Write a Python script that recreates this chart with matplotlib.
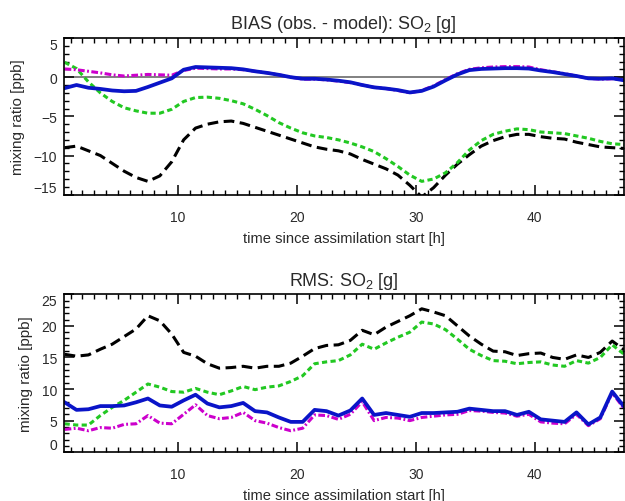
import numpy as np
import matplotlib
matplotlib.use("Agg")
import matplotlib.pyplot as plt
from matplotlib.ticker import MultipleLocator

plt.rcParams['font.family'] = ['Liberation Sans', 'DejaVu Sans']
plt.rcParams['mathtext.fontset'] = 'custom'
plt.rcParams['mathtext.rm'] = 'Liberation Sans'

# hours since assimilation start (hourly values)
hours = np.arange(0.5, 48, 1.0)

# BIAS (obs - model) [ppb]
bias_black = [-9.0, -8.8, -9.4, -10.0, -11.0, -12.0, -12.8, -13.3, -12.6, -10.8,
              -8.0, -6.5, -6.0, -5.7, -5.6, -5.9, -6.4, -6.9, -7.4, -7.9,
              -8.4, -8.9, -9.2, -9.4, -9.8, -10.5, -11.1, -11.7, -12.5, -13.8,
              -15.3, -14.1, -12.5, -11.1, -9.9, -8.8, -8.1, -7.6, -7.3, -7.3,
              -7.6, -7.8, -7.9, -8.3, -8.6, -8.9, -9.0, -9.1]
bias_green = [1.9, 1.1, -0.6, -2.0, -3.1, -3.9, -4.3, -4.6, -4.6, -4.1,
              -3.1, -2.6, -2.55, -2.7, -3.0, -3.4, -4.1, -4.9, -5.8, -6.5,
              -7.1, -7.5, -7.7, -8.0, -8.4, -8.9, -9.5, -10.4, -11.4, -12.5,
              -13.3, -13.0, -12.2, -10.9, -9.3, -8.1, -7.3, -6.9, -6.6, -6.7,
              -7.0, -7.1, -7.2, -7.5, -7.8, -8.2, -8.5, -8.6]
bias_blue = [-1.4, -1.0, -1.35, -1.5, -1.7, -1.8, -1.75, -1.25, -0.7, -0.15,
             0.95, 1.3, 1.25, 1.2, 1.15, 1.0, 0.75, 0.55, 0.3, 0.0,
             -0.2, -0.2, -0.3, -0.45, -0.65, -1.0, -1.3, -1.45, -1.65, -1.95,
             -1.75, -1.2, -0.4, 0.35, 0.9, 1.05, 1.1, 1.15, 1.15, 1.1,
             0.85, 0.65, 0.4, 0.15, -0.15, -0.2, -0.15, -0.4]
bias_magenta = [1.05, 0.95, 0.75, 0.55, 0.3, 0.15, 0.25, 0.35, 0.3, 0.25,
                0.85, 1.15, 1.1, 1.05, 1.05, 0.95, 0.75, 0.55, 0.3, 0.0,
                -0.25, -0.25, -0.35, -0.5, -0.7, -1.0, -1.3, -1.45, -1.7, -2.0,
                -1.7, -1.1, -0.3, 0.45, 1.0, 1.2, 1.3, 1.35, 1.35, 1.3,
                0.95, 0.7, 0.45, 0.15, -0.15, -0.25, -0.2, -0.35]

# RMS [ppb]
rms_black = [15.5, 15.2, 15.4, 16.3, 17.1, 18.3, 19.5, 21.6, 20.8, 18.7,
             15.8, 15.2, 14.0, 13.3, 13.4, 13.6, 13.3, 13.6, 13.6, 14.1,
             15.2, 16.4, 16.9, 17.0, 17.7, 19.3, 18.6, 19.8, 20.7, 21.6,
             22.7, 22.2, 21.6, 20.0, 18.4, 17.1, 16.0, 15.9, 15.3, 15.6,
             15.7, 15.0, 14.7, 15.4, 15.0, 15.8, 17.6, 16.2]
rms_green = [4.5, 4.3, 4.3, 5.8, 7.1, 8.2, 9.5, 10.8, 10.3, 9.6,
             9.5, 10.1, 9.5, 9.1, 9.7, 10.4, 9.9, 10.3, 10.5, 11.2,
             12.1, 14.0, 14.3, 14.5, 15.4, 17.1, 16.3, 17.3, 18.2, 19.0,
             20.6, 20.3, 19.4, 17.9, 16.3, 15.3, 14.5, 14.4, 14.0, 14.2,
             14.3, 13.8, 13.6, 14.5, 14.1, 15.0, 17.0, 15.5]
rms_blue = [7.9, 6.7, 6.8, 7.3, 7.3, 7.4, 7.9, 8.5, 7.4, 7.2,
            8.2, 9.1, 7.7, 7.1, 7.3, 7.8, 6.5, 6.3, 5.5, 4.8,
            4.8, 6.7, 6.5, 5.8, 6.6, 8.5, 5.9, 6.2, 5.9, 5.6,
            6.2, 6.2, 6.3, 6.4, 6.9, 6.7, 6.5, 6.5, 5.9, 6.4,
            5.2, 5.0, 4.8, 6.3, 4.4, 5.5, 9.6, 7.2]
rms_magenta = [3.6, 3.8, 3.4, 3.9, 3.8, 4.4, 4.5, 5.8, 4.6, 4.5,
               6.0, 7.5, 5.8, 5.3, 5.5, 6.3, 5.0, 4.6, 3.9, 3.4,
               3.8, 5.9, 5.8, 5.2, 6.0, 8.0, 5.0, 5.5, 5.4, 5.0,
               5.5, 5.7, 5.9, 6.0, 6.6, 6.5, 6.3, 6.2, 5.7, 6.0,
               4.8, 4.6, 4.5, 6.0, 4.2, 5.3, 9.4, 6.9]

text_col = '#2a2a2a'


def draw_lines(ax, black, green, magenta, blue):
    ax.plot(hours, black, color='black', lw=2.2, dashes=(3.5, 1.8))
    ax.plot(hours, green, color='#22c822', lw=2.2, dashes=(1.7, 1.1))
    ax.plot(hours, magenta, color='#cc00cc', lw=2.2, dashes=(2.2, 0.8, 0.6, 0.8))
    ax.plot(hours, blue, color='#0a14c8', lw=2.7)


def style_axes(ax, title, yticks):
    ax.set_xlim(0.45, 47.45)
    ax.set_xticks([10, 20, 30, 40])
    ax.xaxis.set_minor_locator(MultipleLocator(1))
    ax.set_yticks(yticks)
    ax.set_ylim(yticks[0], yticks[-1])
    ax.yaxis.set_minor_locator(MultipleLocator(1))
    ax.tick_params(which='both', direction='in', top=True, right=True,
                   colors='black', labelcolor=text_col, labelsize=10)
    ax.tick_params(which='major', length=7, width=1.1)
    ax.tick_params(which='minor', length=3.5, width=1.0)
    ax.tick_params(axis='x', pad=11)
    ax.tick_params(axis='y', pad=5)
    for sp in ax.spines.values():
        sp.set_linewidth(1.2)
    ax.set_title(title, fontsize=13, color=text_col, pad=7)
    ax.set_xlabel('time since assimilation start [h]', fontsize=10.6,
                  color=text_col, labelpad=5)
    ax.set_ylabel('mixing ratio [ppb]', fontsize=11, color=text_col, labelpad=6)
    labels = ax.get_yticklabels()
    labels[0].set_va('bottom')
    labels[-1].set_va('top')


fig = plt.figure(figsize=(6.25, 5.02), dpi=100)
ax1 = fig.add_axes([0.1024, 0.6102, 0.8952, 0.3121])
ax2 = fig.add_axes([0.1024, 0.0972, 0.8952, 0.3146])

ax1.axhline(0, color='#808080', lw=1.4, zorder=1)
draw_lines(ax1, bias_black, bias_green, bias_magenta, bias_blue)
style_axes(ax1, 'BIAS (obs. - model): SO$_\\mathregular{2}$ [g]', [-15, -10, -5, 0, 5])

draw_lines(ax2, rms_black, rms_green, rms_magenta, rms_blue)
style_axes(ax2, 'RMS: SO$_\\mathregular{2}$ [g]', [0, 5, 10, 15, 20, 25])

fig.savefig('out.png', dpi=100)
